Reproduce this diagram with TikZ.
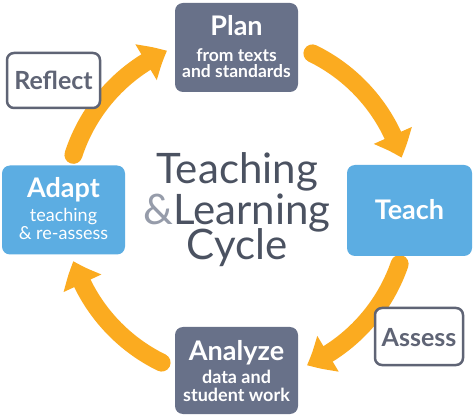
\documentclass[tikz,border=0pt]{standalone}
\usepackage{fontspec}
\setmainfont{Lato}
\usetikzlibrary{arrows.meta,bending,calc}
\definecolor{slate}{RGB}{104,113,137}
\definecolor{sky}{RGB}{92,173,226}
\definecolor{outl}{RGB}{95,100,117}
\definecolor{ornge}{RGB}{251,171,32}
\definecolor{titlec}{RGB}{75,82,97}
\definecolor{ampc}{RGB}{150,156,170}
\tikzset{
  fillbox/.style={rounded corners=8pt, inner sep=0pt},
  slatebox/.style={fillbox, fill=slate},
  skybox/.style={fillbox, fill=sky},
  linebox/.style={rounded corners=7pt, draw=outl, line width=2.5pt, fill=white, inner sep=0pt},
  headw/.style={anchor=base, text=white, font=\fontsize{27}{30}\selectfont\bfseries},
  headg/.style={anchor=base, text=outl, font=\fontsize{25}{28}\selectfont\bfseries},
  subw/.style={anchor=base, align=center, inner sep=0pt, text=white, font=\fontsize{17.5}{16}\selectfont\bfseries},
  suba/.style={anchor=base, align=center, inner sep=0pt, text=white, font=\fontsize{18}{18}\selectfont},
  bigt/.style={anchor=base, align=center, inner sep=0pt, text=titlec, font=\fontsize{42}{41}\selectfont},
  cyc/.style={draw=ornge, line width=18pt, line cap=round, -{Triangle[width=40pt,length=24pt,bend]}}
}
\begin{document}
\begin{tikzpicture}[x=1pt,y=1pt]
\useasboundingbox[fill=white] (0,0) rectangle (474,418);
\coordinate (c) at (237,210);
% arrows
\draw[cyc] ($(c)+(64:172)$) arc[start angle=64, end angle=17, radius=172];
\draw[cyc] ($(c)+(-19:172)$) arc[start angle=-19, end angle=-66, radius=172];
\draw[cyc] ($(c)+(-116:172)$) arc[start angle=-116, end angle=-162, radius=172];
\draw[cyc] ($(c)+(162:172)$) arc[start angle=162, end angle=114, radius=172];
% boxes
\node[slatebox, minimum width=123pt, minimum height=89pt] (plan) at (236.5,370.5) {};
\node[headw] (plant) at (236.5,382) {Plan};
\node[subw] (plans) at (236.5,340.5) {from texts\\and standards};

\node[linebox, minimum width=93pt, minimum height=55pt] (reflect) at (53.5,337.5) {};
\node[headg] (reflectt) at (53.5,328) {Reflect};

\node[skybox, minimum width=123pt, minimum height=89pt] (adapt) at (63.5,208) {};
\node[headw] (adaptt) at (63.5,220) {Adapt};
\node[suba] (adapts) at (63.5,178) {teaching\\\& re-assess};

\node[skybox, minimum width=125pt, minimum height=91pt] (teach) at (409.5,207.5) {};
\node[headw] (teacht) at (409.5,198) {Teach};

\node[slatebox, minimum width=123pt, minimum height=87pt] (analyze) at (236.5,47.5) {};
\node[headw] (analyzet) at (236.5,58) {Analyze};
\node[subw, font=\fontsize{18}{18.5}\selectfont\bfseries] (analyzes) at (236.5,16.5) {data and\\student work};

\node[linebox, minimum width=88pt, minimum height=57pt] (assess) at (419,81.5) {};
\node[headg] (assesst) at (419,71) {Assess};

% title
\node[bigt] (title) at (237,158) {Teaching\\{\color{ampc}\&}Learning\\[-6pt]Cycle};
\end{tikzpicture}
\end{document}
